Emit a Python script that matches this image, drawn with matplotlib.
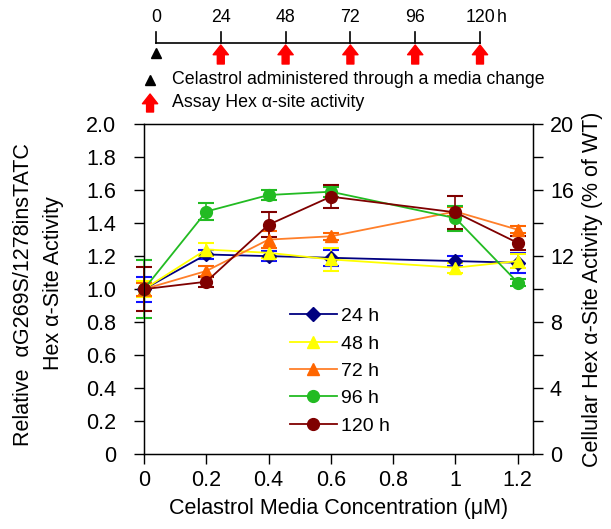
import numpy as np
import matplotlib
matplotlib.use('Agg')
import matplotlib.pyplot as plt
from matplotlib.lines import Line2D

plt.rcParams['font.family'] = ['Liberation Sans', 'DejaVu Sans']

# celastrol concentration (uM)
conc = [0, 0.2, 0.4, 0.6, 1.0, 1.2]

# relative activity per incubation time, with error bars
labels = ['24 h', '48 h', '72 h', '96 h', '120 h']
act_24 = [1.00, 1.21, 1.20, 1.19, 1.17, 1.16]
err_24 = [0.075, 0.03, 0.03, 0.05, 0.03, 0.06]
act_48 = [1.00, 1.24, 1.22, 1.18, 1.13, 1.17]
err_48 = [0.05, 0.04, 0.03, 0.07, 0.03, 0.04]
act_72 = [1.00, 1.11, 1.30, 1.32, 1.47, 1.36]
err_72 = [0.04, 0.03, 0.05, 0.02, 0.03, 0.02]
act_96 = [1.00, 1.47, 1.57, 1.59, 1.43, 1.04]
err_96 = [0.175, 0.05, 0.03, 0.03, 0.075, 0.02]
act_120 = [1.00, 1.045, 1.39, 1.56, 1.465, 1.28]
err_120 = [0.135, 0.03, 0.075, 0.07, 0.10, 0.04]

# timeline
hours = [0, 24, 48, 72, 96, 120]
assay_hours = [24, 48, 72, 96, 120]

W, H = 611, 529
FS = 15.5
fig = plt.figure(figsize=(W / 100, H / 100), dpi=100)

# ---- main plot ----
ax = fig.add_axes([144 / W, 1 - 454.3 / H, (533.3 - 144) / W, (454.3 - 124) / H])
series = [
    (act_24, err_24, '#000080', '#1010ff', 'D', 7),
    (act_48, err_48, '#ffff00', '#ffff00', '^', 9),
    (act_72, err_72, '#ff7f2a', '#ff6600', '^', 9),
    (act_96, err_96, '#22bb22', '#22bb22', 'o', 8.5),
    (act_120, err_120, '#7f0000', '#7f0000', 'o', 8.5),
]
handles = []
for (y, e, col, ecol, mk, ms), lab in zip(series, labels):
    mcol = '#ff6600' if lab == '72 h' else col
    ax.errorbar(conc, y, yerr=e, color=col, ecolor=ecol, elinewidth=1.2,
                capsize=6, capthick=1.5, marker=mk, ms=ms, mfc=mcol, mec=mcol,
                lw=1.3, clip_on=False, zorder=3)
    handles.append(Line2D([], [], color=col, marker=mk, ms=ms, mfc=mcol, mec=mcol,
                          lw=1.3, label=lab))

ax.set_xlim(0, 1.25)
ax.set_ylim(0, 2.0)
ax.set_xticks([0, 0.2, 0.4, 0.6, 0.8, 1.0, 1.2])
ax.set_xticklabels(['0', '0.2', '0.4', '0.6', '0.8', '1', '1.2'])
ax.set_yticks(np.arange(0, 2.01, 0.2))
ax.set_yticklabels(['0'] + ['%.1f' % v for v in np.arange(0.2, 2.01, 0.2)])
ax.tick_params(direction='out', length=7, width=1, labelsize=FS)
ax.tick_params(axis='y', pad=13)
ax.tick_params(axis='x', pad=4)
ax.set_xlabel('Celastrol Media Concentration (\u03bcM)', fontsize=FS, labelpad=5)
for s in ax.spines.values():
    s.set_linewidth(1)

fig.text(24 / W, 1 - 295 / H, 'Relative  \u03b1G269S/1278insTATC', rotation=90,
         ha='center', va='center', fontsize=FS)
fig.text(54 / W, 1 - 283 / H, 'Hex \u03b1-Site Activity', rotation=90,
         ha='center', va='center', fontsize=FS)

ax2 = ax.twinx()
ax2.set_ylim(0, 20)
ax2.set_yticks([0, 4, 8, 12, 16, 20])
ax2.set_yticks([2, 6, 10, 14, 18], minor=True)
ax2.tick_params(which='both', direction='out', length=7, width=1, labelsize=FS, pad=5)
ax2.set_ylabel('Cellular Hex \u03b1-Site Activity (% of WT)', fontsize=FS, labelpad=6)

ax.legend(handles=handles, loc='upper left', bbox_to_anchor=(0.33, 0.497), frameon=False,
          fontsize=14, handlelength=2.4, labelspacing=0.5, handletextpad=0.2)

# ---- timeline ----
TS = 12.8
tl = fig.add_axes([156 / W, 1 - 120 / H, (480 - 156) / W, 120 / H])
tl.set_xlim(0, 120)
tl.set_ylim(120, 0)
tl.axis('off')
tl.plot([0, 120], [43, 43], color='black', lw=1.2, clip_on=False)
for h in hours:
    tl.plot([h, h], [32, 43], color='black', lw=1.2, clip_on=False)
    tl.text(h, 18, str(h), ha='center', va='center', fontsize=TS)
tl.text(128, 18, 'h', ha='center', va='center', fontsize=TS)
tl.plot([0], [53], marker='^', color='black', ms=7, clip_on=False)
arrow_props = dict(arrowstyle='simple,head_width=1.1,head_length=0.7,tail_width=0.5',
                   color='red', mutation_scale=10, shrinkA=0, shrinkB=0)
for h in assay_hours:
    tl.annotate('', xy=(h, 45), xytext=(h, 64), arrowprops=arrow_props,
                annotation_clip=False)
tl.plot([-2.2], [80], marker='^', color='black', ms=7, clip_on=False)
tl.text(6, 80, 'Celastrol administered through a media change', va='center', fontsize=TS)
tl.annotate('', xy=(-2.2, 94), xytext=(-2.2, 112), arrowprops=arrow_props,
            annotation_clip=False)
tl.text(6, 103, 'Assay Hex \u03b1-site activity', va='center', fontsize=TS)

fig.savefig('out.png', dpi=100)
